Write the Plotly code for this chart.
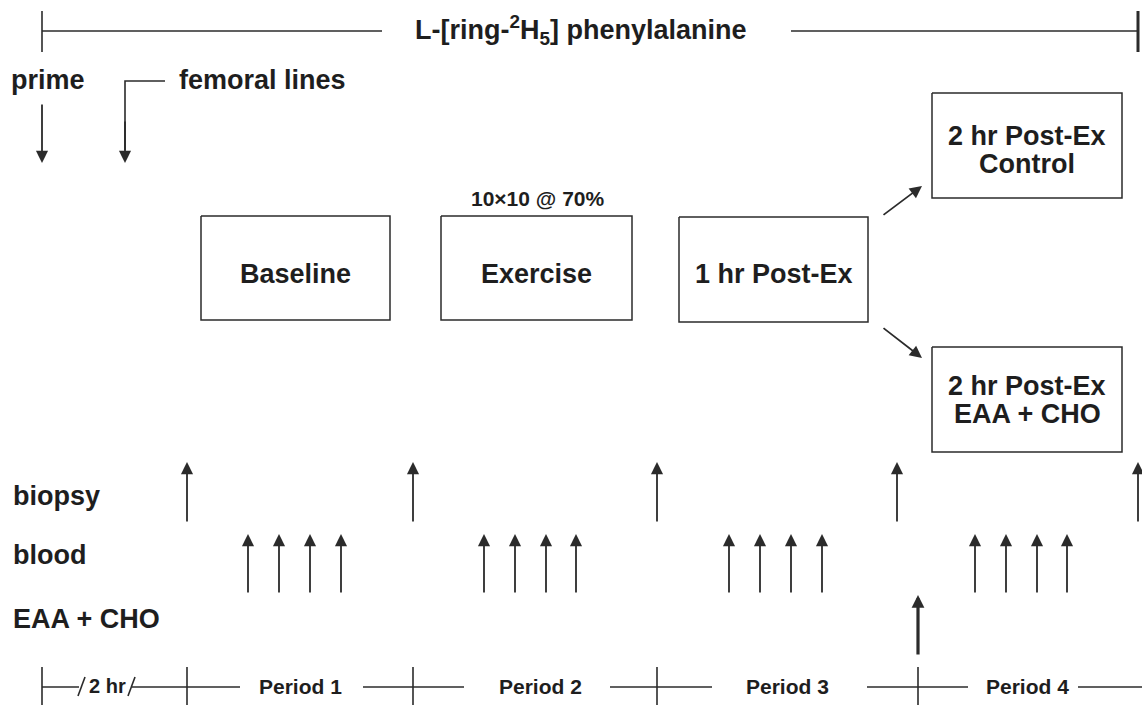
import plotly.graph_objects as go

# ---------------- data ----------------
row_labels = ["prime", "biopsy", "blood", "EAA + CHO"]
period_labels = ["Period 1", "Period 2", "Period 3", "Period 4"]
box_lines = [["Baseline"], ["Exercise"], ["1 hr Post-Ex"],
             ["2 hr Post-Ex", "Control"], ["2 hr Post-Ex", "EAA + CHO"]]
tracer_label = "L-[ring-<sup>2</sup>H<sub>5</sub>] phenylalanine"
exercise_note = "10×10 @ 70%"
femoral_label = "femoral lines"
lead_in_label = "2 hr"

# timeline positions (diagram units, left to right)
timeline_ticks = [42, 187, 413, 657, 918]
biopsy_x = [187, 413, 657, 897, 1138]
blood_x = [248, 279, 310, 341, 484, 515, 546, 576,
           729, 760, 791, 822, 975, 1006, 1037, 1067]
feed_x = [918]
period_centers = [300, 540, 787, 1027]

# ---------------- layout geometry ----------------
W, H = 1142, 705
INK = "#1e1e1e"
LINE = "#2b2b2b"
FONT = "Liberation Sans, Arial, Helvetica, sans-serif"

box_x0 = [201, 441, 679, 932, 932]
box_x1 = [390, 632, 868, 1122, 1122]
box_y0 = [216, 216, 217, 93, 347]
box_y1 = [320, 320, 322, 198, 452]
box_text_y = [[274], [274], [274], [136, 164], [386, 414]]

fig = go.Figure()

def seg(xs, ys, width=1.6, color=LINE):
    fig.add_trace(go.Scatter(x=xs, y=ys, mode="lines",
                             line=dict(color=color, width=width),
                             hoverinfo="skip", showlegend=False,
                             cliponaxis=False))

def arrow(tx, ty, sx, sy, width=1.8, size=1.35):
    fig.add_annotation(x=tx, y=ty, ax=sx, ay=sy, xref="x", yref="y",
                       axref="x", ayref="y", text="", showarrow=True,
                       arrowhead=2, arrowsize=size, arrowwidth=width,
                       arrowcolor=LINE, standoff=0)

def label(x, y, text, size=27, anchor="center"):
    fig.add_annotation(x=x, y=y, xref="x", yref="y", text=f"<b>{text}</b>",
                       showarrow=False, xanchor=anchor, yanchor="middle",
                       font=dict(family=FONT, size=size, color=INK))

# top tracer line
seg([42, 382], [31, 31])
seg([791, 1138], [31, 31])
seg([42, 42], [11, 52])
seg([1138, 1138], [11, 52], width=3)
label(581, 30, tracer_label, size=27)

# prime & femoral lines
label(9, 80, row_labels[0], anchor="left")
arrow(42, 163, 42, 103)
seg([165, 125, 125], [81, 81, 150])
arrow(125, 163, 125, 120)
label(177, 80, femoral_label, anchor="left")

# boxes
for i, lines in enumerate(box_lines):
    x0, x1, y0, y1 = box_x0[i], box_x1[i], box_y0[i], box_y1[i]
    seg([x0, x1, x1, x0, x0], [y0, y0, y1, y1, y0], width=1.5)
    cx = (x0 + x1) / 2
    for t, ty in zip(lines, box_text_y[i]):
        label(cx, ty, t, size=27)
label(537, 198, exercise_note, size=21)

# branching arrows
arrow(922, 186, 882, 216)
arrow(922, 358, 882, 327)

# row labels
label(11, 496, row_labels[1], anchor="left")
label(11, 555, row_labels[2], anchor="left")
label(11, 619, row_labels[3], anchor="left")

# biopsy / blood / feed arrows
for x in biopsy_x:
    arrow(x, 462, x, 523)
for x in blood_x:
    arrow(x, 534, x, 594)
for x in feed_x:
    arrow(x, 595, x, 656, width=3.2, size=0.8)

# bottom timeline
for a, b in [(42, 79), (132, 240), (363, 464), (610, 712), (867, 968), (1078, 1142)]:
    seg([a, b], [687, 687])
for x in timeline_ticks:
    seg([x, x], [667, 706])
seg([78, 85], [696, 677])
seg([128, 135], [696, 677])
label(107, 686, lead_in_label, size=20)
for cx, t in zip(period_centers, period_labels):
    label(cx, 686, t, size=21)

fig.update_layout(
    width=W, height=H, margin=dict(l=0, r=0, t=0, b=0),
    plot_bgcolor="white", paper_bgcolor="white",
    xaxis=dict(range=[0, W], visible=False, fixedrange=True),
    yaxis=dict(range=[H, 0], visible=False, fixedrange=True),
    showlegend=False,
)
fig.write_html(
    "out.html",
    config={"displayModeBar": False},
    post_script=("document.documentElement.style.margin='0';"
                 "document.body.style.margin='0';"
                 "document.documentElement.style.overflow='hidden';"
                 "document.body.style.overflow='hidden';"),
)
